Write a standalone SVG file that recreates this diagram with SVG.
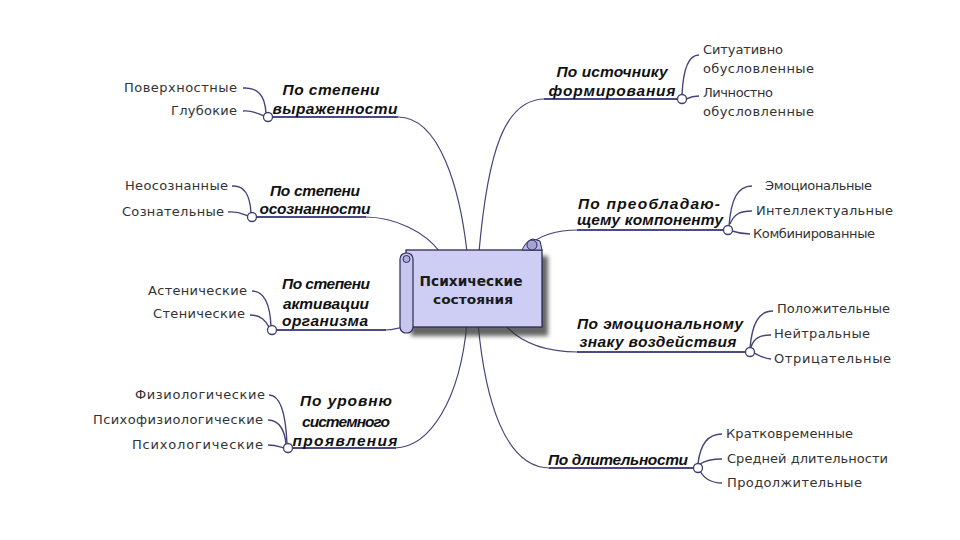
<svg xmlns="http://www.w3.org/2000/svg" width="960" height="540" viewBox="0 0 960 540">
<defs>
<style>
.leaf{font-family:"DejaVu Sans","Liberation Sans",sans-serif;font-size:13px;fill:#333;}
.br{font-family:"Liberation Sans","DejaVu Sans",sans-serif;font-size:15.5px;font-weight:bold;font-style:italic;fill:#111;text-anchor:middle;}
.ttl{font-family:"DejaVu Sans","Liberation Sans",sans-serif;font-weight:bold;fill:#1a1a1a;text-anchor:middle;}
.main{fill:none;stroke:#45457a;stroke-width:1.2;}
.ul{fill:none;stroke:#4a4a85;stroke-width:2;}
.sub{fill:none;stroke:#45457a;stroke-width:1.4;}
.dot{fill:#fff;stroke:#3d3d72;stroke-width:1.3;}
</style>
<filter id="blur" x="-20%" y="-20%" width="140%" height="140%"><feGaussianBlur stdDeviation="2"/></filter>
</defs>
<rect width="960" height="540" fill="#fff"/>

<g id="connectors">
<path class="main" d="M398,117 C440,117 460,190 467,252"/>
<path class="main" d="M365,217 C395,217 425,232 440,252"/>
<path class="main" d="M385,330 C393,330 398,328 404,327"/>
<path class="main" d="M395,448 C430,447 460,400 467,323"/>
<path class="main" d="M479,252 C488,150 505,99 545,99"/>
<path class="main" d="M528,246 C540,235 555,230 578,230"/>
<path class="main" d="M505,325 C520,342 545,352 578,352"/>
<path class="main" d="M478,323 C485,400 505,468 550,468"/>

<path class="ul" d="M272,117 L398,117"/>
<path class="ul" d="M256,217 L366,217"/>
<path class="ul" d="M276,330 L386,330"/>
<path class="ul" d="M292,448 L396,448"/>
<path class="ul" d="M544,99 L678,99"/>
<path class="ul" d="M577,230 L724,230"/>
<path class="ul" d="M577,352 L746,352"/>
<path class="ul" d="M549,468 L694,468"/>

<path class="sub" d="M243,88 C258,87 265,96 266,113"/>
<path class="sub" d="M243,111 C253,110 258,114 264,116"/>
<path class="sub" d="M232,186 C245,185 250,196 251,213"/>
<path class="sub" d="M228,212 C238,211 243,214 248,216"/>
<path class="sub" d="M252,291 C265,291 270,305 271,326"/>
<path class="sub" d="M250,315 C262,315 266,322 269,327"/>
<path class="sub" d="M269,395 C282,395 286,420 287,444"/>
<path class="sub" d="M268,420 C280,420 285,432 286,444"/>
<path class="sub" d="M268,445 C276,445 280,447 284,448"/>
<path class="sub" d="M682,95 C683,72 688,55 699,55"/>
<path class="sub" d="M686,99 C690,97 694,96 699,96"/>
<path class="sub" d="M729,226 C731,200 737,186 752,186"/>
<path class="sub" d="M730,224 C734,214 740,211 752,211"/>
<path class="sub" d="M732,231 C738,233 744,234 750,234"/>
<path class="sub" d="M750,348 C752,325 758,311 773,311"/>
<path class="sub" d="M751,347 C754,338 760,335 771,335"/>
<path class="sub" d="M754,353 C760,356 765,359 771,359"/>
<path class="sub" d="M698,464 C700,445 708,434 722,434"/>
<path class="sub" d="M700,464 C706,460 712,459 722,459"/>
<path class="sub" d="M700,471 C705,480 712,483 722,483"/>

<circle class="dot" cx="268" cy="117" r="4.5"/>
<circle class="dot" cx="252" cy="217" r="4.5"/>
<circle class="dot" cx="272" cy="330" r="4.5"/>
<circle class="dot" cx="288" cy="448" r="4.5"/>
<circle class="dot" cx="682" cy="99" r="4.5"/>
<circle class="dot" cx="728" cy="230" r="4.5"/>
<circle class="dot" cx="750" cy="352" r="4.5"/>
<circle class="dot" cx="698" cy="468" r="4.5"/>
</g>

<g id="center">
<rect x="411" y="256" width="137" height="80" fill="#333" opacity="0.75" filter="url(#blur)"/>
<rect x="406" y="250" width="136" height="77" fill="#CECEF4" stroke="#2B2B55" stroke-width="1.3"/>
<path d="M522,250 C524,246 527,240 533,239 L540,241 L542,250 Z" fill="#B8B8E6" stroke="#2B2B55" stroke-width="1"/>
<circle cx="532" cy="245" r="5" fill="#A4A4D4" stroke="#2B2B55" stroke-width="1"/>
<rect x="400" y="253" width="13" height="80" rx="6" fill="#C6C6EF" stroke="#2B2B55" stroke-width="1.2"/>
<circle cx="406.5" cy="259" r="3.5" fill="#B0B0E0" stroke="#2B2B55" stroke-width="1"/>
<text class="ttl" x="471" y="286" font-size="14.5" textLength="103" lengthAdjust="spacingAndGlyphs">Психические</text>
<text class="ttl" x="473" y="304" font-size="13" textLength="80" lengthAdjust="spacingAndGlyphs">состояния</text>
</g>

<g id="b1">
<text class="br" x="331" y="95" textLength="97">По степени</text>
<text class="br" x="335" y="114" textLength="125">выраженности</text>
<text class="leaf" x="237" y="92" text-anchor="end" textLength="113">Поверхностные</text>
<text class="leaf" x="237" y="115" text-anchor="end" textLength="66">Глубокие</text>
</g>

<g id="b2">
<text class="br" x="315" y="196" textLength="90">По степени</text>
<text class="br" x="315" y="214" textLength="111">осознанности</text>
<text class="leaf" x="228" y="190" text-anchor="end" textLength="103">Неосознанные</text>
<text class="leaf" x="224" y="216" text-anchor="end" textLength="102">Сознательные</text>
</g>

<g id="b3">
<text class="br" x="326" y="289" textLength="88">По степени</text>
<text class="br" x="326" y="309" textLength="86">активации</text>
<text class="br" x="325" y="326" textLength="86">организма</text>
<text class="leaf" x="247" y="295" text-anchor="end" textLength="99">Астенические</text>
<text class="leaf" x="245" y="318" text-anchor="end" textLength="92">Стенические</text>
</g>

<g id="b4">
<text class="br" x="346" y="406" textLength="92">По уровню</text>
<text class="br" x="346" y="427" textLength="88">системного</text>
<text class="br" x="345" y="446" textLength="105">проявления</text>
<text class="leaf" x="265" y="399" text-anchor="end" textLength="130">Физиологические</text>
<text class="leaf" x="263" y="424" text-anchor="end" textLength="170">Психофизиологические</text>
<text class="leaf" x="263" y="449" text-anchor="end" textLength="131">Психологические</text>
</g>

<g id="b5">
<text class="br" x="612" y="77" textLength="111">По источнику</text>
<text class="br" x="612" y="96" textLength="127">формирования</text>
<text class="leaf" x="703" y="54" textLength="80">Ситуативно</text>
<text class="leaf" x="703" y="73" textLength="111">обусловленные</text>
<text class="leaf" x="703" y="97" textLength="70">Личностно</text>
<text class="leaf" x="703" y="116" textLength="111">обусловленные</text>
</g>

<g id="b6">
<text class="br" x="649" y="209" textLength="142">По преобладаю-</text>
<text class="br" x="650" y="225" textLength="146">щему компоненту</text>
<text class="leaf" x="765" y="190" textLength="107">Эмоциональные</text>
<text class="leaf" x="756" y="215" textLength="137">Интеллектуальные</text>
<text class="leaf" x="753" y="238" textLength="122">Комбинированные</text>
</g>

<g id="b7">
<text class="br" x="660" y="329" textLength="166">По эмоциональному</text>
<text class="br" x="658" y="347" textLength="157">знаку воздействия</text>
<text class="leaf" x="777" y="313" textLength="113">Положительные</text>
<text class="leaf" x="774" y="338" textLength="96">Нейтральные</text>
<text class="leaf" x="774" y="363" textLength="117">Отрицательные</text>
</g>

<g id="b8">
<text class="br" x="618" y="465" textLength="140">По длительности</text>
<text class="leaf" x="726" y="438" textLength="127">Кратковременные</text>
<text class="leaf" x="727" y="463" textLength="161">Средней длительности</text>
<text class="leaf" x="727" y="487" textLength="135">Продолжительные</text>
</g>
</svg>
